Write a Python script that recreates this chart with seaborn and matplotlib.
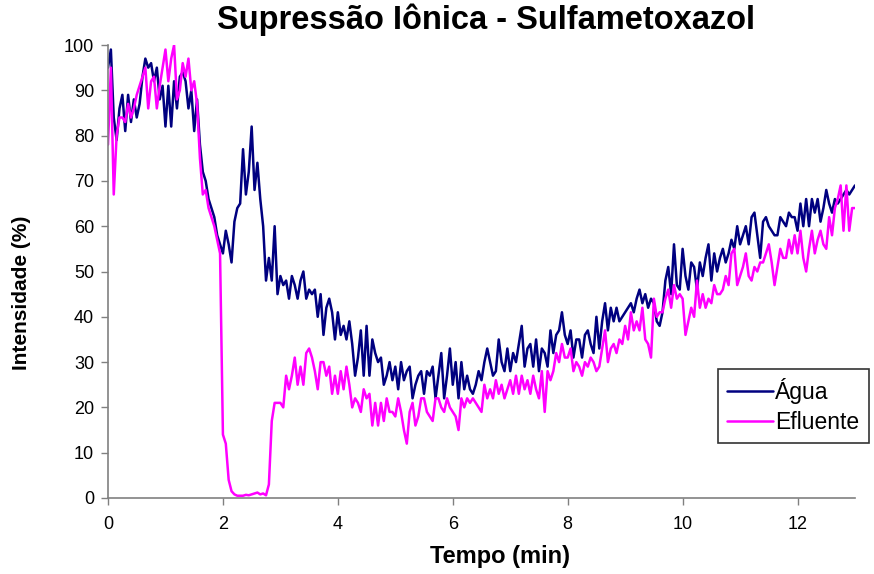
import numpy as np
import pandas as pd
import seaborn as sns
import matplotlib.pyplot as plt

# sampling step of both traces (min)
step = 0.05

agua = [
    95, 99, 84, 79, 86, 89, 81, 89, 83, 88, 84, 87, 93, 97, 95, 96, 92, 95, 88, 91,
    82, 91, 82, 92, 86, 93, 94, 92, 86, 90, 81, 88, 78, 72, 70, 66, 64, 62, 58, 56,
    54, 59, 56, 52, 61, 64, 65, 77, 67, 72, 82, 68, 74, 66, 60, 48, 53, 48, 60, 45,
    49, 47, 48, 44, 49, 47, 44, 48, 50, 44, 46, 45, 46, 40, 45, 36, 42, 44, 41, 35,
    41, 36, 38, 35, 39, 34, 27, 31, 37, 27, 38, 27, 35, 32, 30, 31, 25, 27, 30, 26,
    29, 24, 30, 26, 28, 29, 22, 25, 27, 28, 23, 28, 27, 29, 22, 27, 32, 22, 27, 33,
    25, 30, 22, 30, 24, 27, 24, 23, 25, 28, 26, 30, 33, 30, 27, 28, 35, 30, 28, 33,
    28, 32, 30, 34, 38, 29, 33, 34, 29, 35, 28, 33, 32, 29, 37, 32, 36, 37, 41, 36,
    34, 37, 31, 35, 35, 31, 36, 37, 34, 32, 40, 33, 39, 43, 37, 42, 39, 42, 39, 40,
    41, 42, 43, 41, 44, 46, 43, 45, 42, 44, 43, 39, 38, 41, 48, 51, 45, 56, 47, 46,
    55, 49, 46, 52, 51, 46, 52, 49, 53, 56, 48, 54, 50, 53, 55, 52, 54, 57, 55, 60,
    56, 58, 60, 56, 62, 63, 58, 53, 61, 62, 60, 59, 58, 58, 62, 61, 60, 63, 62, 62,
    59, 65, 60, 66, 60, 66, 63, 66, 61, 64, 68, 65, 63, 66, 65, 66, 67, 68, 67, 68,
    69,
]

efluente = [
    78, 95, 67, 80, 84, 84, 83, 87, 84, 86, 89, 91, 93, 95, 86, 92, 93, 86, 91, 95,
    99, 92, 97, 100, 88, 90, 96, 93, 97, 90, 92, 87, 75, 67, 68, 64, 62, 60, 57, 54,
    14, 12, 4, 1.5, 0.8, 0.5, 0.5, 0.5, 0.7, 0.6, 0.8, 1.0, 1.2, 0.8, 1.0, 0.6, 3, 17, 21, 21,
    21, 20, 27, 24, 27, 31, 25, 29, 25, 32, 33, 31, 28, 24, 30, 30, 27, 29, 23, 27,
    23, 28, 24, 29, 25, 20, 22, 21, 19, 24, 22, 23, 16, 21, 16, 21, 17, 22, 19, 19,
    18, 22, 19, 15, 12, 19, 21, 16, 18, 22, 22, 19, 18, 17, 22, 22, 20, 19, 22, 20,
    19, 18, 15, 22, 20, 22, 21, 22, 21, 20, 19, 25, 22, 24, 22, 26, 23, 25, 22, 24,
    26, 23, 27, 23, 27, 24, 26, 23, 27, 24, 22, 28, 19, 28, 26, 28, 32, 30, 34, 31,
    31, 33, 28, 30, 29, 27, 30, 29, 31, 30, 28, 29, 33, 37, 30, 33, 34, 32, 35, 34,
    38, 35, 41, 37, 39, 37, 42, 35, 34, 31, 44, 40, 41, 41, 44, 46, 42, 47, 44, 45,
    44, 36, 39, 42, 40, 48, 42, 45, 42, 44, 43, 47, 45, 45, 46, 49, 47, 54, 55, 47,
    49, 51, 54, 49, 48, 51, 50, 52, 52, 54, 56, 52, 47, 51, 55, 53, 53, 57, 54, 58,
    54, 59, 53, 50, 55, 59, 54, 57, 59, 56, 55, 62, 58, 64, 66, 69, 59, 69, 59, 64,
    64,
]

series_names = ["Água", "Efluente"]
series_colors = ["#000080", "#FF00FF"]
x_ticks = [0, 2, 4, 6, 8, 10, 12]
y_ticks = [0, 10, 20, 30, 40, 50, 60, 70, 80, 90, 100]

tempo = np.round(np.arange(len(agua)) * step, 2)
df = pd.concat([
    pd.DataFrame({"Tempo": tempo, "Intensidade": agua, "Série": series_names[0]}),
    pd.DataFrame({"Tempo": tempo, "Intensidade": efluente, "Série": series_names[1]}),
])

sns.set_style("white")
plt.rcParams["font.family"] = ["Liberation Sans", "DejaVu Sans"]
plt.rcParams["text.color"] = "black"
plt.rcParams["axes.labelcolor"] = "black"
plt.rcParams["xtick.color"] = "black"
plt.rcParams["ytick.color"] = "black"

fig = plt.figure(figsize=(8.74, 5.74), dpi=100)
ax = fig.add_axes([108 / 874, 1 - 498 / 574, (855 - 108) / 874, (498 - 45) / 574])

sns.lineplot(data=df, x="Tempo", y="Intensidade", hue="Série",
             hue_order=series_names, palette=series_colors,
             linewidth=1.8, ax=ax, estimator=None, sort=False)

ax.set_xlim(0, 13)
ax.set_ylim(0, 100)
ax.set_xticks(x_ticks)
ax.set_yticks(y_ticks)
ax.tick_params(axis="both", labelsize=13, direction="out", length=5,
               width=1, color="#808080", labelcolor="black",
               bottom=True, left=True)
ax.tick_params(axis="x", pad=8)
ax.tick_params(axis="y", pad=5)
for side in ["top", "right"]:
    ax.spines[side].set_visible(False)
for side in ["left", "bottom"]:
    ax.spines[side].set_color("#808080")
    ax.spines[side].set_linewidth(1.2)

ax.set_xlabel("Tempo (min)", fontsize=17, fontweight="bold")
ax.set_ylabel("Intensidade (%)", fontsize=15, fontweight="bold")
ax.xaxis.set_label_coords((500 - 108) / 747, (498 - 556) / 453)
ax.yaxis.set_label_coords((22 - 108) / 747, (498 - 293) / 453)
ax.xaxis.label.set_verticalalignment("center")
ax.yaxis.label.set_verticalalignment("center")

fig.suptitle("Supressão Iônica - Sulfametoxazol", fontsize=23.5, fontweight="bold",
             x=486 / 874, y=1 - 4 / 574, va="top")

leg = ax.legend(loc="upper left", bbox_to_anchor=(718 / 874, 1 - 369 / 574),
                bbox_transform=fig.transFigure, fontsize=16.5, frameon=True,
                fancybox=False, edgecolor="black", handlelength=2.0,
                handletextpad=0.1, borderpad=0.4, labelspacing=0.3,
                borderaxespad=0, title=None)
leg.get_frame().set_linewidth(1.2)
for line in leg.get_lines():
    line.set_linewidth(1.8)

fig.savefig("out.png", dpi=100)
